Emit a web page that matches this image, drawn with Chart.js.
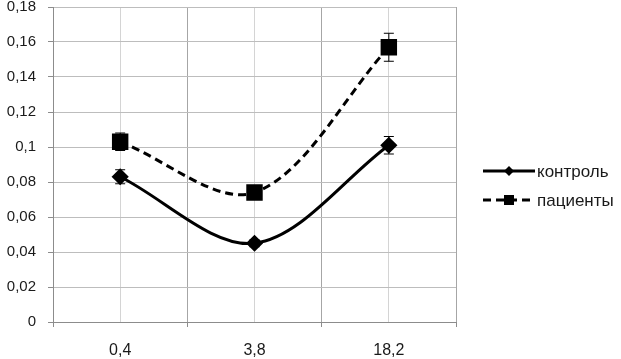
<!DOCTYPE html>
<html>
<head>
<meta charset="utf-8">
<script src="https://cdn.jsdelivr.net/npm/chart.js@4"></script>
<style>
  html, body { margin: 0; padding: 0; background: #fff; }
  #wrap { width: 621px; height: 359px; }
</style>
</head>
<body>
<div id="wrap"><canvas id="chart" width="621" height="359"></canvas></div>
<script>
// data
const categories = ['0,4', '3,8', '18,2'];
const seriesNames = ['контроль', 'пациенты'];
const controlValues = [0.083, 0.045, 0.101];
const controlErr = [0.004, 0.002, 0.005];
const patientValues = [0.103, 0.074, 0.157];
const patientErr = [0.005, 0.002, 0.008];

const FONT = "'Liberation Sans', Arial, sans-serif";

function toPoints(vals) {
    return vals.map((v, i) => ({ x: i, y: v }));
}

// error bars drawn through the scales
const errorBars = {
    id: 'errorBars',
    afterDatasetsDraw(chart) {
        const ctx = chart.ctx;
        const ys = chart.scales.y;
        chart.data.datasets.forEach((ds, di) => {
            const meta = chart.getDatasetMeta(di);
            ctx.save();
            ctx.strokeStyle = '#000';
            ctx.lineWidth = 1;
            meta.data.forEach((pt, i) => {
                const v = ds.data[i].y, e = ds.errors[i];
                const top = ys.getPixelForValue(v + e);
                const bot = ys.getPixelForValue(v - e);
                ctx.beginPath();
                ctx.moveTo(pt.x, top); ctx.lineTo(pt.x, bot);
                ctx.moveTo(pt.x - 5, top); ctx.lineTo(pt.x + 5, top);
                ctx.moveTo(pt.x - 5, bot); ctx.lineTo(pt.x + 5, bot);
                ctx.stroke();
            });
            ctx.restore();
        });
    }
};

// excel-like legend: line with marker, then label
const sideLegend = {
    id: 'sideLegend',
    afterDraw(chart) {
        const ctx = chart.ctx;
        const x0 = 483, x1 = 535, rowY = [171, 200];
        chart.data.datasets.forEach((ds, i) => {
            const y = rowY[i];
            ctx.save();
            ctx.strokeStyle = '#000';
            ctx.lineWidth = 3;
            ctx.setLineDash(ds.borderDash || []);
            ctx.beginPath();
            ctx.moveTo(x0, y); ctx.lineTo(x1, y);
            ctx.stroke();
            ctx.setLineDash([]);
            ctx.fillStyle = '#000';
            const cx = (x0 + x1) / 2;
            ctx.beginPath();
            if (ds.pointStyle === 'rect') {
                ctx.rect(cx - 5, y - 5, 10, 10);
            } else {
                ctx.moveTo(cx - 5, y); ctx.lineTo(cx, y - 5);
                ctx.lineTo(cx + 5, y); ctx.lineTo(cx, y + 5);
                ctx.closePath();
            }
            ctx.fill();
            ctx.font = '17px ' + FONT;
            ctx.textBaseline = 'middle';
            ctx.fillStyle = '#1a1a1a';
            ctx.fillText(ds.label, x1 + 2, y + 1);
            ctx.restore();
        });
    }
};

new Chart(document.getElementById('chart'), {
    type: 'line',
    data: {
        datasets: [{
            label: seriesNames[0],
            data: toPoints(controlValues),
            errors: controlErr,
            borderColor: '#000',
            backgroundColor: '#000',
            borderWidth: 3,
            tension: 0.33,
            pointStyle: 'rectRot',
            pointRadius: 6.5,
            pointHoverRadius: 6.5
        }, {
            label: seriesNames[1],
            data: toPoints(patientValues),
            errors: patientErr,
            borderColor: '#000',
            backgroundColor: '#000',
            borderWidth: 3,
            borderDash: [8, 5],
            tension: 0.33,
            pointStyle: 'rect',
            pointRadius: 9.5,
            pointHoverRadius: 9.5
        }]
    },
    options: {
        responsive: false,
        animation: false,
        layout: { autoPadding: false, padding: { top: 7, right: 165, left: 0, bottom: 0 } },
        plugins: { legend: { display: false }, tooltip: { enabled: false } },
        scales: {
            x: {
                type: 'linear',
                min: -0.5,
                max: 2.5,
                afterFit: s => { s.height = 37; s.paddingLeft = 0; s.paddingRight = 0; },
                afterBuildTicks: s => {
                    s.ticks = [];
                    for (let v = -0.5; v <= 2.5; v += 0.5) s.ticks.push({ value: v });
                },
                ticks: {
                    autoSkip: false,
                    maxRotation: 0,
                    padding: 14,
                    color: '#1a1a1a',
                    font: { family: FONT, size: 16 },
                    callback: v => Number.isInteger(v) ? categories[v] : ''
                },
                grid: {
                    color: c => Number.isInteger(c.tick && c.tick.value) ? '#d4d4d4' : '#a6a6a6',
                    tickColor: c => Number.isInteger(c.tick && c.tick.value) ? 'rgba(0,0,0,0)' : '#8c8c8c',
                    tickLength: 5
                },
                border: { color: '#8c8c8c' }
            },
            y: {
                min: 0,
                max: 0.18,
                afterFit: s => { s.width = 53; s.paddingTop = 0; s.paddingBottom = 0; },
                ticks: {
                    stepSize: 0.02,
                    padding: 12,
                    color: '#1a1a1a',
                    font: { family: FONT, size: 15 },
                    callback: v => String(Number(v.toFixed(2))).replace('.', ',')
                },
                grid: { color: '#bdbdbd', tickColor: '#8c8c8c', tickLength: 5 },
                border: { color: '#8c8c8c' }
            }
        }
    },
    plugins: [errorBars, sideLegend]
});
</script>
</body>
</html>
